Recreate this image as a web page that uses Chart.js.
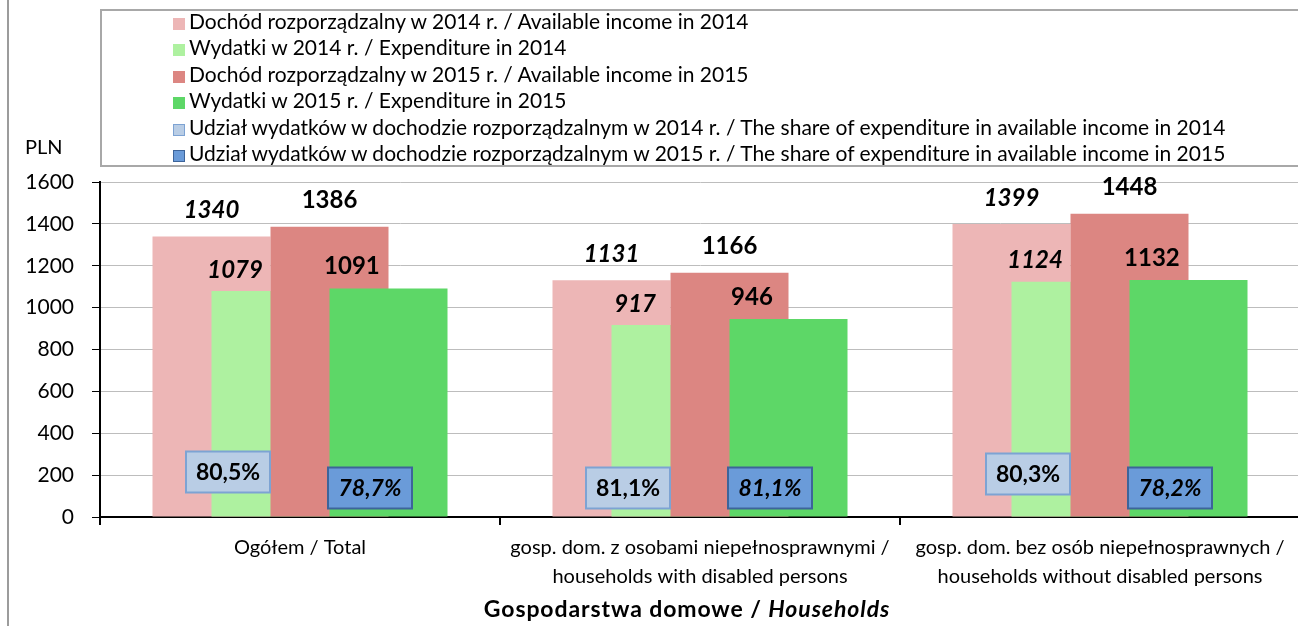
<!DOCTYPE html>
<html>
<head>
<meta charset="utf-8">
<script src="https://cdn.jsdelivr.net/npm/chart.js@4.4.1/dist/chart.umd.min.js"></script>
<style>
  html, body { margin: 0; padding: 0; background: #fff; overflow: hidden; }
  #wrap { position: relative; width: 1298px; height: 626px; overflow: hidden; font-family: Lato, sans-serif; color: #000; }
  #box { position: absolute; left: 0; top: 0; width: 1300px; height: 626px; }
  #frame { position: absolute; left: 7px; top: 0; width: 2px; height: 626px; background: #9c9c9c; }
  #legend { position: absolute; left: 100px; top: 9px; width: 1300px; height: 158px; border: 2px solid #a8a8a8; box-sizing: border-box; font-size: 21px; }
  #legend ul { list-style: none; margin: -3px 0 0 0; padding: 0 0 0 71px; }
  #legend li { height: 26.4px; line-height: 26.4px; white-space: nowrap; }
  #legend .mk { display: inline-block; width: 12px; height: 12px; box-sizing: border-box; margin-right: 4px; vertical-align: -1px; }
  #pln { position: absolute; left: 25px; top: 134px; font-size: 20px; }
  #xtitle { position: absolute; left: 387px; width: 600px; top: 594px; text-align: center; font-size: 23px; letter-spacing: 0.9px; font-weight: bold; }
</style>
</head>
<body>
<div id="wrap">
  <div id="box"><canvas id="chart"></canvas></div>
  <div id="frame"></div>
  <div id="legend"><ul id="legendList"></ul></div>
  <div id="pln">PLN</div>
  <div id="xtitle">Gospodarstwa domowe / <i>Households</i></div>
</div>
<script>
const categories = [
  ['Ogółem / Total'],
  ['gosp. dom. z osobami niepełnosprawnymi /', 'households with disabled persons'],
  ['gosp. dom. bez osób niepełnosprawnych /', 'households without disabled persons']
];
const income2014 = [1340, 1131, 1399];
const expenditure2014 = [1079, 917, 1124];
const income2015 = [1386, 1166, 1448];
const expenditure2015 = [1091, 946, 1132];
const share2014 = [80.5, 81.1, 80.3];
const share2015 = [78.7, 81.1, 78.2];
const seriesNames = [
  'Dochód rozporządzalny w 2014 r. / Available income in 2014',
  'Wydatki w 2014 r. / Expenditure in 2014',
  'Dochód rozporządzalny w 2015 r. / Available income in 2015',
  'Wydatki w 2015 r. / Expenditure in 2015',
  'Udział wydatków w dochodzie rozporządzalnym w 2014 r. / The share of expenditure in available income in 2014',
  'Udział wydatków w dochodzie rozporządzalnym w 2015 r. / The share of expenditure in available income in 2015'
];

const barColors = ['#edb6b6', '#aef1a0', '#dc8682', '#5dd767'];
const shareFill = ['#b9cde5', '#6a9bd9'];
const shareEdge = ['#7da3d3', '#3d649a'];

// how the value labels sit over each bar series
const labelStyle = [
  { italic: true, shift: 0, lift: 26 },
  { italic: true, shift: -0.3, lift: 21 },
  { italic: false, shift: 0, lift: 27 },
  { italic: false, shift: -0.31, lift: 22 }
];
// share boxes: pixels above the axis, side offset as part of a category
const shareLift = [[45, 29, 43], [29, 29, 29]];
const shareSide = [-0.18, 0.175];

// legend
const list = document.getElementById('legendList');
seriesNames.forEach((name, i) => {
  const li = document.createElement('li');
  const mk = document.createElement('span');
  mk.className = 'mk';
  if (i < 4) {
    mk.style.background = barColors[i];
  } else {
    mk.style.background = shareFill[i - 4];
    mk.style.border = '1.5px solid ' + shareEdge[i - 4];
  }
  li.appendChild(mk);
  li.appendChild(document.createTextNode(name));
  list.appendChild(li);
});

const barSeries = [income2014, expenditure2014, income2015, expenditure2015];

// later series sit on top of earlier ones
const barsInOrder = {
  id: 'barsInOrder',
  beforeDatasetDraw() { return false; },
  afterDatasetsDraw(chart) {
    chart.data.datasets.forEach((ds, i) => chart.getDatasetMeta(i).controller.draw());
  }
};

const fmtShare = v => v.toFixed(1).replace('.', ',') + '%';

const valueLabels = {
  id: 'valueLabels',
  afterDraw(chart) {
    const ctx = chart.ctx;
    ctx.save();
    ctx.textAlign = 'center';
    ctx.textBaseline = 'middle';
    ctx.fillStyle = '#000';
    chart.data.datasets.forEach((ds, i) => {
      const st = labelStyle[i];
      ctx.font = (st.italic ? 'italic ' : '') + 'bold 24px Lato';
      chart.getDatasetMeta(i).data.forEach((bar, j) => {
        ctx.fillText(String(ds.data[j]), bar.x + st.shift * bar.width, bar.y - st.lift);
      });
    });

    const xs = chart.scales.x;
    const base = chart.scales.y.getPixelForValue(0);
    const catW = (xs.right - xs.left) / categories.length;
    [share2014, share2015].forEach((vals, k) => {
      vals.forEach((v, j) => {
        const cx = xs.getPixelForValue(j) + shareSide[k] * catW;
        const cy = base - shareLift[k][j];
        const w = 84, h = 41;
        ctx.fillStyle = shareFill[k];
        ctx.fillRect(cx - w / 2, cy - h / 2, w, h);
        ctx.lineWidth = 2;
        ctx.strokeStyle = shareEdge[k];
        ctx.strokeRect(cx - w / 2, cy - h / 2, w, h);
        ctx.fillStyle = '#000';
        ctx.font = (k === 1 ? 'italic ' : '') + 'bold 23px Lato';
        ctx.fillText(fmtShare(v), cx, cy + 1);
      });
    });
    ctx.restore();
  }
};

new Chart(document.getElementById('chart'), {
  type: 'bar',
  data: {
    labels: categories,
    datasets: barSeries.map((values, i) => ({
      label: seriesNames[i],
      data: values,
      backgroundColor: barColors[i],
      borderWidth: 0,
      categoryPercentage: 0.59,
      barPercentage: 2
    }))
  },
  options: {
    responsive: true,
    maintainAspectRatio: false,
    animation: false,
    layout: { padding: { top: 182, left: 0, right: 0, bottom: 0 } },
    plugins: {
      legend: { display: false },
      tooltip: { enabled: false }
    },
    scales: {
      x: {
        afterFit: s => { s.height = 109; },
        grid: { drawOnChartArea: false, tickLength: 8, tickColor: '#000', lineWidth: 2 },
        border: { color: '#000', width: 2 },
        ticks: {
          color: '#000',
          padding: 8,
          font: { family: 'Lato', size: 20, lineHeight: 1.45 }
        }
      },
      y: {
        min: 0,
        max: 1600,
        afterFit: s => { s.width = 100; },
        grid: { color: '#bdbdbd', lineWidth: 1, tickLength: 8, tickColor: '#000' },
        border: { color: '#000', width: 2 },
        ticks: {
          stepSize: 200,
          color: '#000',
          padding: 18,
          callback: v => String(v),
          font: { family: 'Lato', size: 21 }
        }
      }
    }
  },
  plugins: [barsInOrder, valueLabels]
});
</script>
</body>
</html>
